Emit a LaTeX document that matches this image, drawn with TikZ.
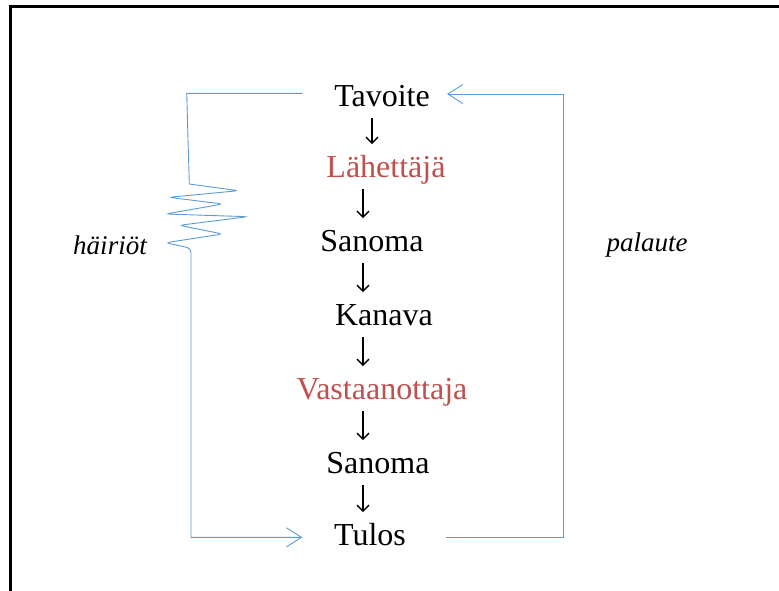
\documentclass[tikz,border=0pt]{standalone}
\usepackage{fontspec}
\setmainfont{Liberation Serif}
\usetikzlibrary{arrows.meta}
\definecolor{lblue}{HTML}{5B9BD5}
\definecolor{tred}{HTML}{C0504D}
\tikzset{
  item/.style={inner sep=0pt, anchor=base, font=\fontsize{32}{36}\selectfont},
  reditem/.style={item, text=tred},
  lab/.style={inner sep=0pt, font=\fontsize{27}{30}\selectfont\itshape},
  darr/.style={line width=1.3pt, -{Straight Barb[length=6pt,width=12pt,line width=1.3pt]}},
  bline/.style={draw=lblue, line width=0.9pt},
  barr/.style={bline, -{Straight Barb[length=15pt,width=19pt,line width=0.9pt]}},
}
\begin{document}
\begin{tikzpicture}[x=1pt,y=-1pt]
\useasboundingbox (0,0) rectangle (779,590);
\begin{scope}
\clip (0,0) rectangle (779,590);
\draw[line width=3pt] (10.3,6) rectangle (800,610);
\end{scope}

\node[item]    (tav) at (382,106)  {Tavoite};
\node[reditem] (lah) at (386,177) {Lähettäjä};
\node[item]    (san1) at (372,251) {Sanoma};
\node[item]    (kan) at (384,325) {Kanava};
\node[reditem] (vas) at (382,399) {Vastaanottaja};
\node[item]    (san2) at (378,473) {Sanoma};
\node[item]    (tul) at (370,545) {Tulos};

\coordinate (ax1) at (372,0);
\coordinate (ax) at (363,0);
\draw[darr] ([yshift=-12pt]tav.base -| ax1) -- ([yshift=33pt]lah.base -| ax1);
\draw[darr] ([yshift=-12pt]lah.base -| ax) -- ([yshift=33pt]san1.base -| ax);
\draw[darr] ([yshift=-12pt]san1.base -| ax) -- ([yshift=33pt]kan.base -| ax);
\draw[darr] ([yshift=-12pt]kan.base -| ax) -- ([yshift=33pt]vas.base -| ax);
\draw[darr] ([yshift=-12pt]vas.base -| ax) -- ([yshift=33pt]san2.base -| ax);
\draw[darr] ([yshift=-12pt]san2.base -| ax) -- ([yshift=33pt]tul.base -| ax);

\node[lab] (hai) at (110,245) {häiriöt};
\node[lab] (pal) at (647,245) {palaute};

% left disturbance connector
\coordinate (lt) at (302.7,93.3);
\coordinate (lb) at (302.3,537.3);
\draw[barr] (lt) -- (186.7,93.3) -- (189.3,184) [rounded corners=4pt]
  -- (238.3,190.7) -- (169,197.3) -- (222.7,204) -- (165.7,214)
  -- (247.7,216.7) -- (179.3,225.3) -- (222.7,234) -- (165.7,242.7)
  -- (191,248.3) [sharp corners] -- (191,537.3) -- (lb);

% right feedback connector
\coordinate (rb) at (446,537);
\coordinate (rt) at (447,94);
\draw[barr] (rb) -- (563,537) -- (563,94) -- (rt);
\end{tikzpicture}
\end{document}
